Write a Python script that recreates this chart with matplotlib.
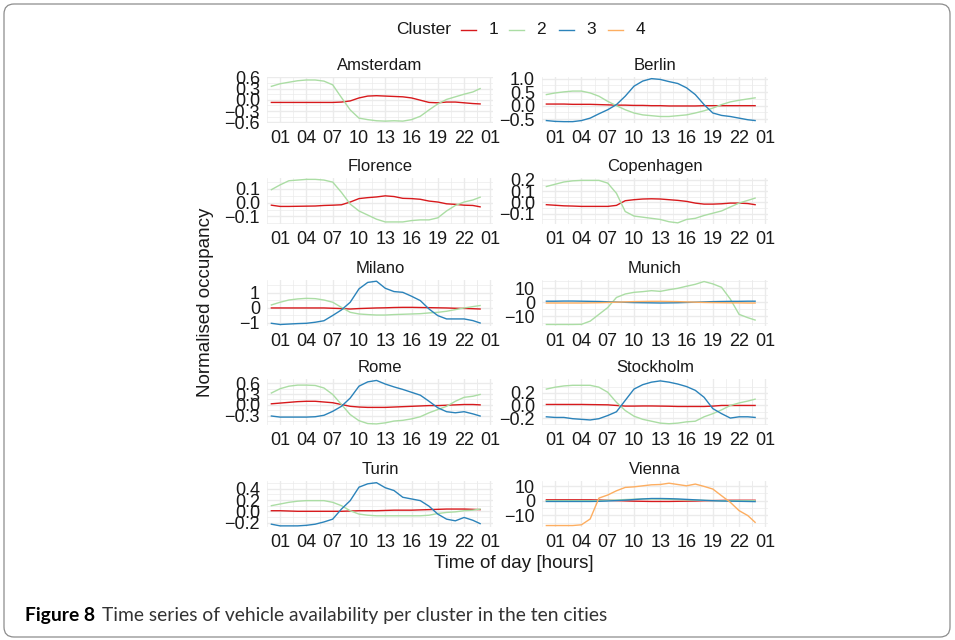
"""
Time series of vehicle availability per cluster, small multiples per city
"""

import matplotlib.pyplot as plt
from matplotlib.lines import Line2D
from matplotlib.patches import FancyBboxPatch

plt.rcParams["font.family"] = ["Liberation Sans", "DejaVu Sans"]

# * Data (hourly, last point at 23:50)
HOURS = list(range(24)) + [23.83]

AMS_C1 = [-0.07, -0.07, -0.07, -0.07, -0.07, -0.07, -0.07, -0.07, -0.06, -0.03, 0.05, 0.10, 0.11,
          0.10, 0.09, 0.08, 0.05, -0.01, -0.07, -0.08, -0.06, -0.06, -0.08, -0.10, -0.11]
AMS_C2 = [0.36, 0.43, 0.47, 0.51, 0.53, 0.53, 0.50, 0.40, 0.06, -0.27, -0.49, -0.53, -0.56,
          -0.57, -0.56, -0.57, -0.53, -0.44, -0.27, -0.11, 0.01, 0.08, 0.15, 0.21, 0.30]

BER_C1 = [0.06, 0.06, 0.06, 0.05, 0.05, 0.05, 0.04, 0.03, 0.02, 0.02, 0.01, 0.01, 0.0,
          0.0, -0.01, -0.01, -0.01, -0.01, 0.0, 0.0, 0.0, 0.0, 0.0, 0.0, 0.0]
BER_C2 = [0.41, 0.47, 0.51, 0.54, 0.54, 0.47, 0.35, 0.16, 0.0, -0.15, -0.27, -0.34, -0.37,
          -0.40, -0.40, -0.37, -0.34, -0.27, -0.19, -0.09, 0.04, 0.14, 0.20, 0.25, 0.29]
BER_C3 = [-0.55, -0.58, -0.59, -0.59, -0.55, -0.46, -0.30, -0.15, 0.04, 0.35, 0.72, 0.91, 1.0,
          0.97, 0.89, 0.82, 0.66, 0.41, 0.04, -0.27, -0.36, -0.40, -0.46, -0.52, -0.55]

FLO_C1 = [-0.018, -0.027, -0.027, -0.026, -0.025, -0.024, -0.02, -0.018, -0.015, 0.005, 0.03,
          0.037, 0.042, 0.05, 0.045, 0.032, 0.03, 0.025, 0.012, 0.005, -0.008, -0.012, -0.018,
          -0.02, -0.03]
FLO_C2 = [0.095, 0.13, 0.16, 0.165, 0.17, 0.17, 0.165, 0.15, 0.075, -0.01, -0.06, -0.09, -0.12,
          -0.14, -0.14, -0.14, -0.13, -0.125, -0.125, -0.11, -0.06, -0.02, 0.005, 0.02, 0.04]

COP_C1 = [-0.02, -0.025, -0.03, -0.032, -0.035, -0.035, -0.035, -0.035, -0.026, 0.015, 0.024,
          0.03, 0.032, 0.03, 0.024, 0.018, 0.009, -0.006, -0.015, -0.015, -0.012, -0.006,
          -0.006, -0.01, -0.02]
COP_C2 = [0.14, 0.16, 0.18, 0.19, 0.194, 0.194, 0.194, 0.17, 0.08, -0.08, -0.12, -0.13, -0.14,
          -0.15, -0.17, -0.18, -0.15, -0.14, -0.115, -0.095, -0.075, -0.04, -0.006, 0.018, 0.038]

MIL_C1 = [0.0, 0.0, 0.0, 0.0, 0.0, 0.0, 0.0, -0.02, -0.04, -0.07, -0.04, -0.02, 0.0, 0.01,
          0.03, 0.04, 0.04, 0.03, 0.02, 0.01, 0.0, -0.02, -0.03, -0.05, -0.07]
MIL_C2 = [0.20, 0.38, 0.53, 0.60, 0.64, 0.62, 0.53, 0.38, 0.04, -0.29, -0.40, -0.44, -0.47,
          -0.47, -0.44, -0.42, -0.40, -0.38, -0.33, -0.29, -0.22, -0.11, 0.0, 0.09, 0.16]
MIL_C3 = [-1.02, -1.10, -1.07, -1.04, -1.02, -0.95, -0.85, -0.50, -0.13, 0.38, 1.27, 1.70, 1.78,
          1.31, 1.09, 1.04, 0.78, 0.49, -0.07, -0.51, -0.73, -0.73, -0.73, -0.84, -1.0]

MUN_C2 = [-16.1, -16.1, -16.1, -16.1, -16.0, -13.7, -8.8, -3.9, 3.4, 5.9, 7.1, 7.6, 8.3,
          7.8, 9.0, 10.0, 11.5, 12.9, 14.9, 13.2, 10.7, 2.2, -8.8, -11.2, -12.9]
MUN_C3 = [0.7, 0.7, 0.8, 0.8, 0.7, 0.6, 0.5, 0.3, 0.1, -0.1, -0.3, -0.4, -0.5, -0.6, -0.5,
          -0.4, -0.2, 0.0, 0.2, 0.4, 0.5, 0.6, 0.6, 0.7, 0.7]
MUN_C4 = [-0.6, -0.6, -0.6, -0.6, -0.6, -0.5, -0.4, -0.2, 0.0, 0.2, 0.4, 0.5, 0.6, 0.6, 0.5,
          0.4, 0.2, 0.0, -0.2, -0.3, -0.4, -0.5, -0.5, -0.6, -0.6]

ROM_C1 = [0.03, 0.05, 0.07, 0.09, 0.10, 0.10, 0.08, 0.06, 0.01, -0.04, -0.06, -0.07, -0.07,
          -0.07, -0.06, -0.05, -0.04, -0.03, -0.02, -0.02, -0.01, 0.0, 0.01, 0.01, 0.0]
ROM_C2 = [0.33, 0.45, 0.52, 0.55, 0.55, 0.54, 0.47, 0.29, 0.01, -0.27, -0.44, -0.52, -0.53,
          -0.50, -0.45, -0.43, -0.39, -0.33, -0.22, -0.13, -0.04, 0.10, 0.21, 0.24, 0.29]
ROM_C3 = [-0.31, -0.34, -0.34, -0.34, -0.34, -0.33, -0.29, -0.18, -0.04, 0.19, 0.52, 0.64, 0.68,
          0.58, 0.50, 0.43, 0.35, 0.27, 0.10, -0.08, -0.19, -0.22, -0.19, -0.25, -0.31]

STO_C1 = [0.016, 0.016, 0.016, 0.016, 0.016, 0.014, 0.012, 0.01, 0.0, -0.01, -0.01, -0.008,
          -0.008, -0.01, -0.012, -0.016, -0.016, -0.016, -0.016, -0.01, 0.0, 0.0, 0.0, 0.0, 0.0]
STO_C2 = [0.26, 0.29, 0.31, 0.32, 0.32, 0.32, 0.29, 0.21, 0.05, -0.08, -0.17, -0.22, -0.25,
          -0.28, -0.29, -0.28, -0.26, -0.25, -0.18, -0.13, -0.07, 0.0, 0.04, 0.07, 0.10]
STO_C3 = [-0.18, -0.19, -0.19, -0.21, -0.22, -0.23, -0.21, -0.16, -0.10, 0.08, 0.26, 0.33, 0.37,
          0.39, 0.37, 0.34, 0.30, 0.24, 0.13, -0.05, -0.13, -0.20, -0.18, -0.18, -0.19]

TUR_C1 = [0.01, 0.01, 0.005, 0.0, 0.0, 0.0, 0.0, 0.0, 0.0, 0.005, 0.01, 0.01, 0.01, 0.015,
          0.02, 0.02, 0.02, 0.025, 0.03, 0.035, 0.04, 0.04, 0.04, 0.035, 0.03]
TUR_C2 = [0.10, 0.13, 0.16, 0.18, 0.19, 0.19, 0.19, 0.16, 0.10, 0.01, -0.05, -0.07, -0.08,
          -0.08, -0.08, -0.08, -0.08, -0.08, -0.07, -0.04, -0.02, -0.01, 0.01, 0.02, 0.04]
TUR_C3 = [-0.23, -0.26, -0.26, -0.26, -0.25, -0.23, -0.19, -0.14, 0.04, 0.19, 0.43, 0.49, 0.51,
          0.42, 0.37, 0.25, 0.22, 0.19, 0.09, -0.05, -0.14, -0.17, -0.11, -0.16, -0.22]

VIE_C1 = [0.6, 0.6, 0.6, 0.6, 0.6, 0.6, 0.5, 0.3, 0.1, -0.1, -0.3, -0.4, -0.5, -0.5, -0.5,
          -0.4, -0.3, -0.2, 0.0, 0.1, 0.2, 0.3, 0.3, 0.3, 0.3]
VIE_C2 = [0.0, 0.0, 0.0, 0.0, 0.0, 0.0, 0.1, 0.3, 0.5, 0.8, 1.0, 1.2, 1.2, 1.1, 1.0, 0.8,
          0.6, 0.4, 0.2, 0.1, 0.0, 0.0, 0.0, 0.0, 0.0]
VIE_C3 = [-0.5, -0.5, -0.5, -0.5, -0.5, -0.5, -0.4, -0.2, 0.1, 0.4, 0.8, 1.2, 1.5, 1.5, 1.4,
          1.2, 0.9, 0.6, 0.3, 0.0, -0.2, -0.3, -0.4, -0.5, -0.6]
VIE_C4 = [-17.0, -17.0, -17.0, -17.0, -16.5, -12.5, 1.8, 3.9, 6.8, 9.1, 9.5, 10.2, 10.9,
          11.1, 12.0, 11.1, 10.2, 11.4, 9.8, 8.0, 3.4, -1.1, -6.8, -10.2, -14.8]

CITIES = ["Amsterdam", "Berlin", "Florence", "Copenhagen", "Milano",
          "Munich", "Rome", "Stockholm", "Turin", "Vienna"]
SERIES = {
    "Amsterdam": {1: AMS_C1, 2: AMS_C2},
    "Berlin": {1: BER_C1, 2: BER_C2, 3: BER_C3},
    "Florence": {1: FLO_C1, 2: FLO_C2},
    "Copenhagen": {1: COP_C1, 2: COP_C2},
    "Milano": {1: MIL_C1, 2: MIL_C2, 3: MIL_C3},
    "Munich": {2: MUN_C2, 3: MUN_C3, 4: MUN_C4},
    "Rome": {1: ROM_C1, 2: ROM_C2, 3: ROM_C3},
    "Stockholm": {1: STO_C1, 2: STO_C2, 3: STO_C3},
    "Turin": {1: TUR_C1, 2: TUR_C2, 3: TUR_C3},
    "Vienna": {1: VIE_C1, 2: VIE_C2, 3: VIE_C3, 4: VIE_C4},
}
Y_TICKS = {
    "Amsterdam": [-0.6, -0.3, 0.0, 0.3, 0.6],
    "Berlin": [-0.5, 0.0, 0.5, 1.0],
    "Florence": [-0.1, 0.0, 0.1],
    "Copenhagen": [-0.1, 0.0, 0.1, 0.2],
    "Milano": [-1, 0, 1],
    "Munich": [-10, 0, 10],
    "Rome": [-0.3, 0.0, 0.3, 0.6],
    "Stockholm": [-0.2, 0.0, 0.2],
    "Turin": [-0.2, 0.0, 0.2, 0.4],
    "Vienna": [-10, 0, 10],
}
Y_FMT = {"Milano": "{:.0f}", "Munich": "{:.0f}", "Vienna": "{:.0f}"}
Y_LIMS = {
    "Amsterdam": (-0.62, 0.61),
    "Berlin": (-0.64, 1.06),
    "Florence": (-0.155, 0.18),
    "Copenhagen": (-0.19, 0.215),
    "Milano": (-1.2, 1.86),
    "Munich": (-17.2, 16.0),
    "Rome": (-0.56, 0.72),
    "Stockholm": (-0.31, 0.42),
    "Turin": (-0.28, 0.54),
    "Vienna": (-18.0, 13.5),
}
X_TICKS = [1, 4, 7, 10, 13, 16, 19, 22, 25]
X_LABELS = ["01", "04", "07", "10", "13", "16", "19", "22", "01"]

COLORS = {1: "#d7191c", 2: "#abdda4", 3: "#2b83ba", 4: "#fdae61"}

# * Layout constants (pixels)
W, H = 955, 640
COL_X = [267, 542]
ROW_TOP = [77, 178, 280, 379, 481]
PANEL_W, PANEL_H = 226, 46
TEXT_COLOR = "#1a1a1a"


def fmt_tick(value: float, fmt: str) -> str:
    """Format a tick with a real minus sign like ggplot"""
    text = fmt.format(abs(value))
    return ("\u2212" + text) if value < 0 else text


def draw_panel(fig, name: str, idx: int) -> None:
    """Draw one city panel"""
    col, row = idx % 2, idx // 2
    x0, top = COL_X[col], ROW_TOP[row]
    ax = fig.add_axes([x0 / W, 1 - (top + PANEL_H) / H, PANEL_W / W, PANEL_H / H])
    for cluster, values in SERIES[name].items():
        ax.plot(HOURS, values, color=COLORS[cluster], lw=1.0, zorder=2 + cluster)
    ax.set_xlim(-0.5, 25.3)
    ax.set_xticks(X_TICKS)
    ax.set_xticklabels(X_LABELS)
    ax.set_xticks([t - 1.5 for t in X_TICKS] + [23.5], minor=True)
    ticks = Y_TICKS[name]
    fmt = Y_FMT.get(name, "{:.1f}")
    ax.set_yticks(ticks)
    ax.set_yticklabels([fmt_tick(t, fmt) for t in ticks])
    step = ticks[1] - ticks[0]
    ax.set_yticks([ticks[0] - step / 2] + [t + step / 2 for t in ticks], minor=True)
    ax.set_ylim(*Y_LIMS[name])
    ax.grid(which="major", color="#ebebeb", lw=1.0)
    ax.grid(which="minor", color="#ebebeb", lw=0.5)
    ax.set_axisbelow(True)
    ax.tick_params(which="both", length=0, labelsize=13, colors=TEXT_COLOR)
    ax.tick_params(axis="x", pad=5)
    ax.tick_params(axis="y", pad=5)
    for spine in ax.spines.values():
        spine.set_visible(False)
    ax.patch.set_alpha(0)
    ax.set_title(name, fontsize=12, pad=5, color=TEXT_COLOR)


def main() -> None:
    """Build the figure"""
    fig = plt.figure(figsize=(W / 100, H / 100), dpi=100)

    # * Background layer in pixel coordinates for frame, legend and captions
    bg = fig.add_axes([0, 0, 1, 1])
    bg.set_xlim(0, W)
    bg.set_ylim(H, 0)
    bg.axis("off")
    bg.add_patch(FancyBboxPatch((4, 4), 946, 633, boxstyle="round,pad=0,rounding_size=10",
                                fc="white", ec="#8c8c8c", lw=0.9))

    for i, name in enumerate(CITIES):
        draw_panel(fig, name, i)

    # * Legend
    bg.text(396, 30, "Cluster", fontsize=12.5, va="center", ha="left", color=TEXT_COLOR)
    key_x = [461, 509, 559, 608]
    for cluster, kx in zip(COLORS, key_x):
        bg.add_line(Line2D([kx, kx + 15], [30, 30], color=COLORS[cluster], lw=1.0))
        bg.text(kx + 32, 30, str(cluster), fontsize=12.5, va="center", ha="center",
                color=TEXT_COLOR)

    # * Axis titles
    bg.text(205, 302, "Normalised occupancy", rotation=90, fontsize=13.5,
            va="center", ha="center", color=TEXT_COLOR)
    bg.text(514, 563, "Time of day [hours]", fontsize=13.5, va="center", ha="center",
            color=TEXT_COLOR)

    # * Caption
    bg.text(25, 615, "Figure 8", fontsize=13.9, fontweight="bold", va="center",
            family=["Lato", "DejaVu Sans"])
    bg.text(102, 615, "Time series of vehicle availability per cluster in the ten cities",
            fontsize=13.9, va="center", family=["Lato", "DejaVu Sans"], color="#333333")

    fig.savefig("out.png", dpi=100)


if __name__ == "__main__":
    main()
